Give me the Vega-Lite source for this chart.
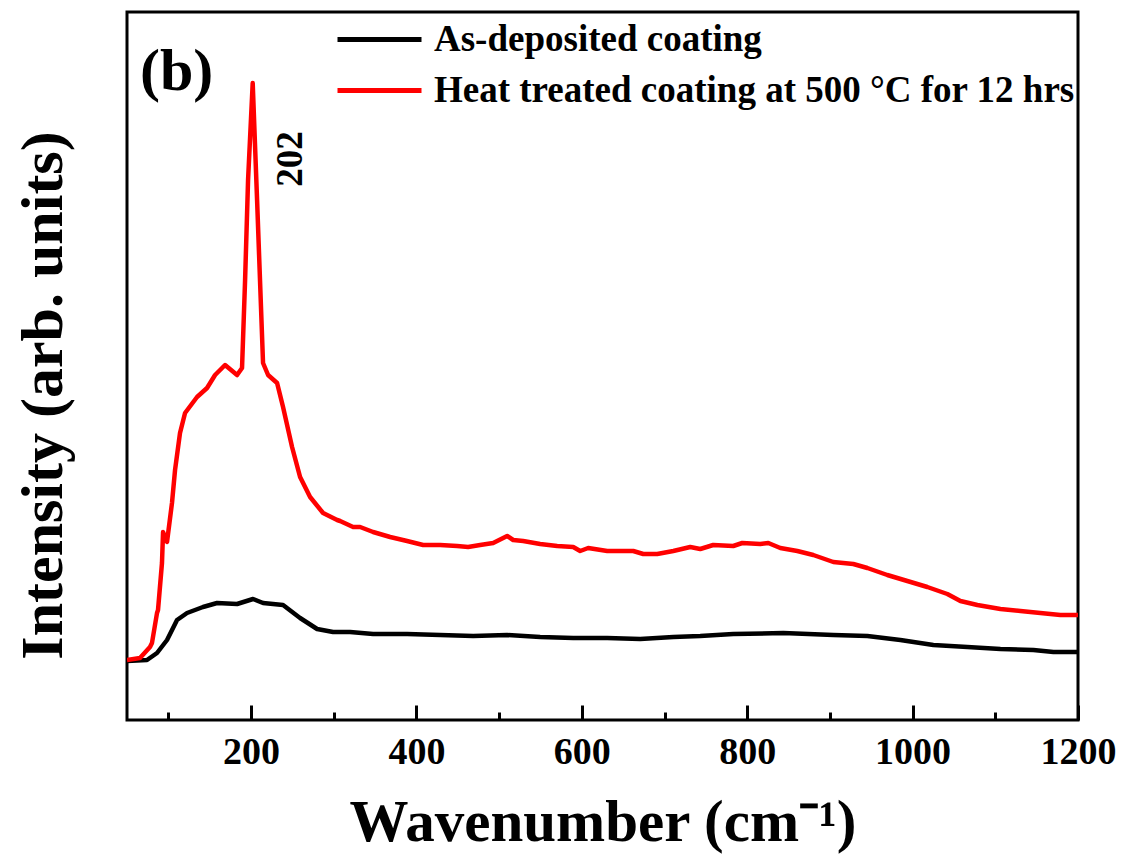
{
  "$schema": "https://vega.github.io/schema/vega-lite/v6.json",
  "autosize": "none",
  "width": 951,
  "height": 708,
  "padding": {"left": 127, "top": 12, "right": 49, "bottom": 137},
  "background": "white",
  "config": {
    "font": "Liberation Serif",
    "view": {"stroke": "black", "strokeWidth": 3},
    "axis": {"labelFont": "Liberation Serif", "titleFont": "Liberation Serif", "labelFontWeight": "bold", "titleFontWeight": "bold", "labelColor": "black", "titleColor": "black", "grid": false}
  },
  "resolve": {"axis": {"x": "independent"}},
  "datasets": {
    "spectra": [
      {"wavenumber": 50, "intensity": 59, "sample": "As-deposited coating"},
      {"wavenumber": 74.2, "intensity": 60, "sample": "As-deposited coating"},
      {"wavenumber": 86.3, "intensity": 67, "sample": "As-deposited coating"},
      {"wavenumber": 98.4, "intensity": 80, "sample": "As-deposited coating"},
      {"wavenumber": 110.5, "intensity": 100, "sample": "As-deposited coating"},
      {"wavenumber": 122.6, "intensity": 107, "sample": "As-deposited coating"},
      {"wavenumber": 141.9, "intensity": 113, "sample": "As-deposited coating"},
      {"wavenumber": 158.9, "intensity": 117, "sample": "As-deposited coating"},
      {"wavenumber": 183.1, "intensity": 116, "sample": "As-deposited coating"},
      {"wavenumber": 202.4, "intensity": 121, "sample": "As-deposited coating"},
      {"wavenumber": 214.5, "intensity": 117, "sample": "As-deposited coating"},
      {"wavenumber": 238.7, "intensity": 115, "sample": "As-deposited coating"},
      {"wavenumber": 259.3, "intensity": 102, "sample": "As-deposited coating"},
      {"wavenumber": 279.9, "intensity": 91, "sample": "As-deposited coating"},
      {"wavenumber": 299.2, "intensity": 88, "sample": "As-deposited coating"},
      {"wavenumber": 319.8, "intensity": 88, "sample": "As-deposited coating"},
      {"wavenumber": 347.6, "intensity": 86, "sample": "As-deposited coating"},
      {"wavenumber": 388.7, "intensity": 86, "sample": "As-deposited coating"},
      {"wavenumber": 428.7, "intensity": 85, "sample": "As-deposited coating"},
      {"wavenumber": 468.6, "intensity": 84, "sample": "As-deposited coating"},
      {"wavenumber": 509.7, "intensity": 85, "sample": "As-deposited coating"},
      {"wavenumber": 549.6, "intensity": 83, "sample": "As-deposited coating"},
      {"wavenumber": 589.6, "intensity": 82, "sample": "As-deposited coating"},
      {"wavenumber": 630.7, "intensity": 82, "sample": "As-deposited coating"},
      {"wavenumber": 670.6, "intensity": 81, "sample": "As-deposited coating"},
      {"wavenumber": 710.6, "intensity": 83, "sample": "As-deposited coating"},
      {"wavenumber": 743.2, "intensity": 84, "sample": "As-deposited coating"},
      {"wavenumber": 783.1, "intensity": 86, "sample": "As-deposited coating"},
      {"wavenumber": 843.6, "intensity": 87, "sample": "As-deposited coating"},
      {"wavenumber": 904.1, "intensity": 85, "sample": "As-deposited coating"},
      {"wavenumber": 945.3, "intensity": 84, "sample": "As-deposited coating"},
      {"wavenumber": 985.2, "intensity": 80, "sample": "As-deposited coating"},
      {"wavenumber": 1025.1, "intensity": 75, "sample": "As-deposited coating"},
      {"wavenumber": 1066.2, "intensity": 73, "sample": "As-deposited coating"},
      {"wavenumber": 1106.2, "intensity": 71, "sample": "As-deposited coating"},
      {"wavenumber": 1146.1, "intensity": 70, "sample": "As-deposited coating"},
      {"wavenumber": 1170.3, "intensity": 68, "sample": "As-deposited coating"},
      {"wavenumber": 1200, "intensity": 68, "sample": "As-deposited coating"},

      {"wavenumber": 50, "intensity": 60, "sample": "Heat treated coating at 500 °C for 12 hrs"},
      {"wavenumber": 65.7, "intensity": 62, "sample": "Heat treated coating at 500 °C for 12 hrs"},
      {"wavenumber": 77.8, "intensity": 73, "sample": "Heat treated coating at 500 °C for 12 hrs"},
      {"wavenumber": 80.2, "intensity": 77, "sample": "Heat treated coating at 500 °C for 12 hrs"},
      {"wavenumber": 86.3, "intensity": 107, "sample": "Heat treated coating at 500 °C for 12 hrs"},
      {"wavenumber": 87.5, "intensity": 110, "sample": "Heat treated coating at 500 °C for 12 hrs"},
      {"wavenumber": 92.3, "intensity": 157, "sample": "Heat treated coating at 500 °C for 12 hrs"},
      {"wavenumber": 93.6, "intensity": 188, "sample": "Heat treated coating at 500 °C for 12 hrs"},
      {"wavenumber": 98.4, "intensity": 178, "sample": "Heat treated coating at 500 °C for 12 hrs"},
      {"wavenumber": 104.4, "intensity": 217, "sample": "Heat treated coating at 500 °C for 12 hrs"},
      {"wavenumber": 108.1, "intensity": 250, "sample": "Heat treated coating at 500 °C for 12 hrs"},
      {"wavenumber": 114.1, "intensity": 287, "sample": "Heat treated coating at 500 °C for 12 hrs"},
      {"wavenumber": 120.2, "intensity": 307, "sample": "Heat treated coating at 500 °C for 12 hrs"},
      {"wavenumber": 134.7, "intensity": 323, "sample": "Heat treated coating at 500 °C for 12 hrs"},
      {"wavenumber": 146.8, "intensity": 332, "sample": "Heat treated coating at 500 °C for 12 hrs"},
      {"wavenumber": 156.5, "intensity": 345, "sample": "Heat treated coating at 500 °C for 12 hrs"},
      {"wavenumber": 168.6, "intensity": 355, "sample": "Heat treated coating at 500 °C for 12 hrs"},
      {"wavenumber": 183.1, "intensity": 345, "sample": "Heat treated coating at 500 °C for 12 hrs"},
      {"wavenumber": 189.1, "intensity": 352, "sample": "Heat treated coating at 500 °C for 12 hrs"},
      {"wavenumber": 192.8, "intensity": 440, "sample": "Heat treated coating at 500 °C for 12 hrs"},
      {"wavenumber": 196.4, "intensity": 540, "sample": "Heat treated coating at 500 °C for 12 hrs"},
      {"wavenumber": 202, "intensity": 637, "sample": "Heat treated coating at 500 °C for 12 hrs"},
      {"wavenumber": 207.3, "intensity": 520, "sample": "Heat treated coating at 500 °C for 12 hrs"},
      {"wavenumber": 214.5, "intensity": 357, "sample": "Heat treated coating at 500 °C for 12 hrs"},
      {"wavenumber": 220.6, "intensity": 345, "sample": "Heat treated coating at 500 °C for 12 hrs"},
      {"wavenumber": 231.5, "intensity": 337, "sample": "Heat treated coating at 500 °C for 12 hrs"},
      {"wavenumber": 238.7, "intensity": 313, "sample": "Heat treated coating at 500 °C for 12 hrs"},
      {"wavenumber": 249.6, "intensity": 273, "sample": "Heat treated coating at 500 °C for 12 hrs"},
      {"wavenumber": 259.3, "intensity": 243, "sample": "Heat treated coating at 500 °C for 12 hrs"},
      {"wavenumber": 271.4, "intensity": 223, "sample": "Heat treated coating at 500 °C for 12 hrs"},
      {"wavenumber": 287.1, "intensity": 207, "sample": "Heat treated coating at 500 °C for 12 hrs"},
      {"wavenumber": 304.1, "intensity": 200, "sample": "Heat treated coating at 500 °C for 12 hrs"},
      {"wavenumber": 307.7, "intensity": 199, "sample": "Heat treated coating at 500 °C for 12 hrs"},
      {"wavenumber": 323.4, "intensity": 193, "sample": "Heat treated coating at 500 °C for 12 hrs"},
      {"wavenumber": 331.9, "intensity": 193, "sample": "Heat treated coating at 500 °C for 12 hrs"},
      {"wavenumber": 347.6, "intensity": 188, "sample": "Heat treated coating at 500 °C for 12 hrs"},
      {"wavenumber": 368.2, "intensity": 183, "sample": "Heat treated coating at 500 °C for 12 hrs"},
      {"wavenumber": 388.7, "intensity": 179, "sample": "Heat treated coating at 500 °C for 12 hrs"},
      {"wavenumber": 408.1, "intensity": 175, "sample": "Heat treated coating at 500 °C for 12 hrs"},
      {"wavenumber": 428.7, "intensity": 175, "sample": "Heat treated coating at 500 °C for 12 hrs"},
      {"wavenumber": 449.2, "intensity": 174, "sample": "Heat treated coating at 500 °C for 12 hrs"},
      {"wavenumber": 462.5, "intensity": 173, "sample": "Heat treated coating at 500 °C for 12 hrs"},
      {"wavenumber": 477, "intensity": 175, "sample": "Heat treated coating at 500 °C for 12 hrs"},
      {"wavenumber": 492.8, "intensity": 177, "sample": "Heat treated coating at 500 °C for 12 hrs"},
      {"wavenumber": 509.7, "intensity": 184, "sample": "Heat treated coating at 500 °C for 12 hrs"},
      {"wavenumber": 517, "intensity": 180, "sample": "Heat treated coating at 500 °C for 12 hrs"},
      {"wavenumber": 529.1, "intensity": 179, "sample": "Heat treated coating at 500 °C for 12 hrs"},
      {"wavenumber": 549.6, "intensity": 176, "sample": "Heat treated coating at 500 °C for 12 hrs"},
      {"wavenumber": 570.2, "intensity": 174, "sample": "Heat treated coating at 500 °C for 12 hrs"},
      {"wavenumber": 589.6, "intensity": 173, "sample": "Heat treated coating at 500 °C for 12 hrs"},
      {"wavenumber": 598, "intensity": 169, "sample": "Heat treated coating at 500 °C for 12 hrs"},
      {"wavenumber": 607.7, "intensity": 172, "sample": "Heat treated coating at 500 °C for 12 hrs"},
      {"wavenumber": 630.7, "intensity": 169, "sample": "Heat treated coating at 500 °C for 12 hrs"},
      {"wavenumber": 650, "intensity": 169, "sample": "Heat treated coating at 500 °C for 12 hrs"},
      {"wavenumber": 662.2, "intensity": 169, "sample": "Heat treated coating at 500 °C for 12 hrs"},
      {"wavenumber": 674.3, "intensity": 166, "sample": "Heat treated coating at 500 °C for 12 hrs"},
      {"wavenumber": 691.2, "intensity": 166, "sample": "Heat treated coating at 500 °C for 12 hrs"},
      {"wavenumber": 710.6, "intensity": 169, "sample": "Heat treated coating at 500 °C for 12 hrs"},
      {"wavenumber": 731.1, "intensity": 173, "sample": "Heat treated coating at 500 °C for 12 hrs"},
      {"wavenumber": 743.2, "intensity": 171, "sample": "Heat treated coating at 500 °C for 12 hrs"},
      {"wavenumber": 758.9, "intensity": 175, "sample": "Heat treated coating at 500 °C for 12 hrs"},
      {"wavenumber": 783.1, "intensity": 174, "sample": "Heat treated coating at 500 °C for 12 hrs"},
      {"wavenumber": 794, "intensity": 177, "sample": "Heat treated coating at 500 °C for 12 hrs"},
      {"wavenumber": 815.8, "intensity": 176, "sample": "Heat treated coating at 500 °C for 12 hrs"},
      {"wavenumber": 825.5, "intensity": 177, "sample": "Heat treated coating at 500 °C for 12 hrs"},
      {"wavenumber": 840, "intensity": 172, "sample": "Heat treated coating at 500 °C for 12 hrs"},
      {"wavenumber": 860.6, "intensity": 169, "sample": "Heat treated coating at 500 °C for 12 hrs"},
      {"wavenumber": 879.9, "intensity": 165, "sample": "Heat treated coating at 500 °C for 12 hrs"},
      {"wavenumber": 904.1, "intensity": 158, "sample": "Heat treated coating at 500 °C for 12 hrs"},
      {"wavenumber": 928.3, "intensity": 156, "sample": "Heat treated coating at 500 °C for 12 hrs"},
      {"wavenumber": 945.3, "intensity": 152, "sample": "Heat treated coating at 500 °C for 12 hrs"},
      {"wavenumber": 969.4, "intensity": 145, "sample": "Heat treated coating at 500 °C for 12 hrs"},
      {"wavenumber": 993.6, "intensity": 139, "sample": "Heat treated coating at 500 °C for 12 hrs"},
      {"wavenumber": 1017.8, "intensity": 133, "sample": "Heat treated coating at 500 °C for 12 hrs"},
      {"wavenumber": 1042, "intensity": 126, "sample": "Heat treated coating at 500 °C for 12 hrs"},
      {"wavenumber": 1057.8, "intensity": 119, "sample": "Heat treated coating at 500 °C for 12 hrs"},
      {"wavenumber": 1078.3, "intensity": 115, "sample": "Heat treated coating at 500 °C for 12 hrs"},
      {"wavenumber": 1106.2, "intensity": 111, "sample": "Heat treated coating at 500 °C for 12 hrs"},
      {"wavenumber": 1130.4, "intensity": 109, "sample": "Heat treated coating at 500 °C for 12 hrs"},
      {"wavenumber": 1154.5, "intensity": 107, "sample": "Heat treated coating at 500 °C for 12 hrs"},
      {"wavenumber": 1178.7, "intensity": 105, "sample": "Heat treated coating at 500 °C for 12 hrs"},
      {"wavenumber": 1200, "intensity": 105, "sample": "Heat treated coating at 500 °C for 12 hrs"}
    ],
    "peaks": [{"wavenumber": 202, "label": "202"}],
    "panel": [{"label": "(b)"}]
  },
  "layer": [
    {
      "data": {"name": "spectra"},
      "mark": {"type": "line", "strokeWidth": 4.5, "strokeJoin": "round", "clip": true},
      "encoding": {
        "x": {
          "field": "wavenumber", "type": "quantitative",
          "scale": {"domain": [50, 1200], "nice": false, "zero": false},
          "axis": {
            "orient": "bottom",
            "offset": -15,
            "title": "Wavenumber (cm⁻¹)",
            "titleFont": "Liberation Serif",
            "titleFontSize": 59,
            "titlePadding": 22,
            "values": [200, 400, 600, 800, 1000, 1200],
            "format": "d",
            "labelFont": "Liberation Serif",
            "labelFontSize": 38,
            "labelPadding": 13,
            "labelFlush": false,
            "labelOverlap": false,
            "domain": false,
            "ticks": true,
            "tickColor": "black",
            "tickWidth": 3,
            "tickSize": 15
          }
        },
        "y": {
          "field": "intensity", "type": "quantitative",
          "scale": {"domain": [0, 708], "nice": false},
          "axis": {
            "title": "Intensity (arb. units)",
            "titleFont": "Liberation Serif",
            "titleFontSize": 60,
            "titlePadding": 53,
            "titleY": 383,
            "labels": false,
            "ticks": false,
            "domain": false
          }
        },
        "color": {
          "field": "sample", "type": "nominal",
          "scale": {"domain": ["As-deposited coating", "Heat treated coating at 500 °C for 12 hrs"], "range": ["black", "red"]},
          "legend": {
            "title": null,
            "orient": "none",
            "legendX": 234,
            "legendY": 9,
            "symbolType": "M-4,0H4",
            "symbolSize": 441,
            "symbolStrokeWidth": 5,
            "symbolFillColor": "transparent",
            "labelFont": "Liberation Serif",
            "labelFontWeight": "bold",
            "labelFontSize": 37,
            "labelColor": "black",
            "labelOffset": 36,
            "labelLimit": 0,
            "rowPadding": 13,
            "padding": 0
          }
        }
      }
    },
    {
      "data": {"name": "peaks"},
      "mark": {"type": "text", "angle": 270, "font": "Liberation Serif", "fontWeight": "bold", "fontSize": 37, "align": "center", "baseline": "middle", "dy": 38, "color": "black"},
      "encoding": {
        "x": {
          "field": "wavenumber", "type": "quantitative",
          "axis": {
            "orient": "bottom",
            "offset": -8,
            "title": null,
            "values": [100, 300, 500, 700, 900, 1100],
            "labels": false,
            "domain": false,
            "ticks": true,
            "tickColor": "black",
            "tickWidth": 3,
            "tickSize": 8
          }
        },
        "y": {"datum": 561},
        "text": {"field": "label"}
      }
    },
    {
      "data": {"name": "panel"},
      "mark": {"type": "text", "font": "Liberation Serif", "fontWeight": "bold", "fontSize": 60, "align": "center", "baseline": "middle", "color": "black"},
      "encoding": {
        "x": {"datum": 110, "axis": null},
        "y": {"datum": 648},
        "text": {"field": "label"}
      }
    }
  ]
}
